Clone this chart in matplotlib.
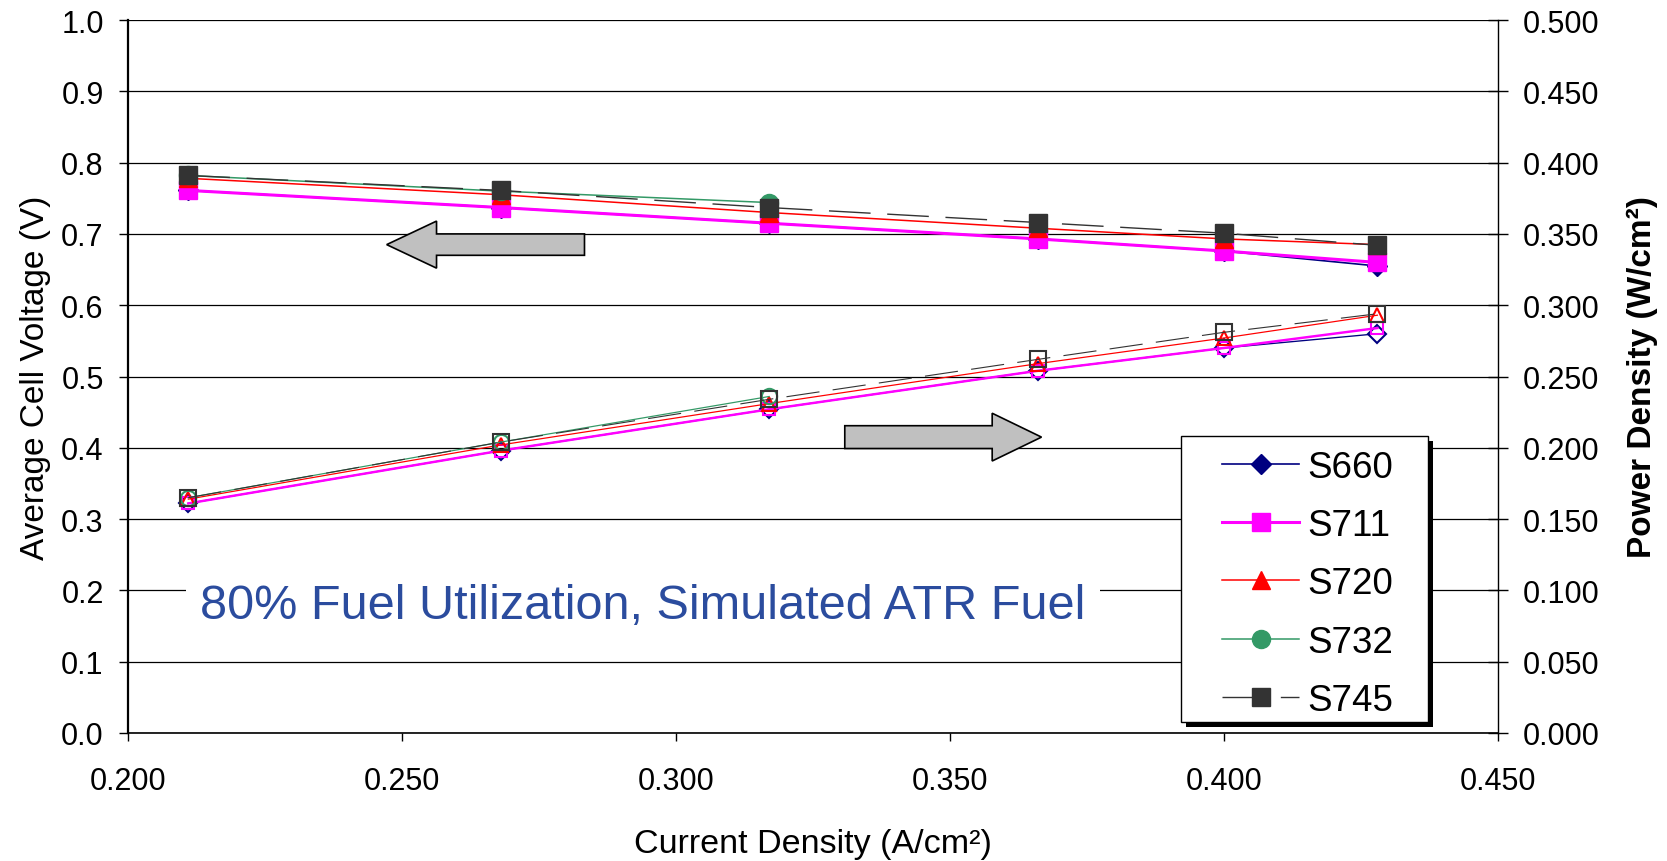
import matplotlib
matplotlib.use('Agg')
import matplotlib.pyplot as plt
import matplotlib.patches as mpatches
from matplotlib import font_manager
import numpy as np

plt.rcParams['font.family'] = ['Liberation Sans', 'DejaVu Sans']

# current density (A/cm2)
current = [0.211, 0.268, 0.317, 0.366, 0.400, 0.428]
current_s732 = [0.211, 0.268, 0.317]

# average cell voltage (V)
volt_s660 = [0.761, 0.737, 0.715, 0.693, 0.676, 0.655]
volt_s711 = [0.761, 0.737, 0.715, 0.693, 0.676, 0.660]
volt_s720 = [0.778, 0.755, 0.730, 0.708, 0.693, 0.685]
volt_s732 = [0.782, 0.760, 0.744]
volt_s745 = [0.782, 0.761, 0.737, 0.716, 0.701, 0.684]

# power density (W/cm2)
power_s660 = [0.161, 0.198, 0.227, 0.254, 0.270, 0.280]
power_s711 = [0.161, 0.198, 0.227, 0.254, 0.270, 0.284]
power_s720 = [0.164, 0.202, 0.231, 0.259, 0.277, 0.293]
power_s732 = [0.165, 0.204, 0.236]
power_s745 = [0.165, 0.204, 0.234, 0.262, 0.281, 0.294]

names = ['S660', 'S711', 'S720', 'S732', 'S745']
xs = [current, current, current, current_s732, current]
volts = [volt_s660, volt_s711, volt_s720, volt_s732, volt_s745]
powers = [power_s660, power_s711, power_s720, power_s732, power_s745]

colors = ['#000080', '#FF00FF', '#FF0000', '#339966', '#333333']
markers = ['D', 's', '^', 'o', 's']
msize = [10.5, 13, 13, 13, 13]
psize = [9.5, 9, 10, 11, 11.5]
lws = [1.2, 2.2, 1.1, 1.1, 1.0]

fig = plt.figure(figsize=(16.67, 8.62), dpi=100)
ax = fig.add_axes([0.0768, 0.1485, 0.8218, 0.8271])
ax2 = ax.twinx()

handles = []
for i in range(5):
    ls = (0, (30, 12)) if names[i] == 'S745' else '-'
    h, = ax.plot(xs[i], volts[i], color=colors[i], lw=lws[i], ls=ls,
                 marker=markers[i], ms=msize[i], mfc=colors[i], mec=colors[i],
                 label=names[i], zorder=4)
    handles.append(h)
    ax2.plot(xs[i], powers[i], color=colors[i], lw=lws[i] * 0.8, ls=ls,
             marker=markers[i], ms=psize[i], mfc='none', mec=colors[i],
             mew=1.5)

ax.set_xlim(0.2, 0.45)
ax.set_ylim(0, 1.0)
ax2.set_ylim(0, 0.5)
ax.set_xticks(np.arange(0.2, 0.451, 0.05))
ax.set_xticklabels(['%.3f' % v for v in np.arange(0.2, 0.451, 0.05)])
ax.set_yticks(np.arange(0, 1.01, 0.1))
ax.set_yticklabels(['%.1f' % v for v in np.arange(0, 1.01, 0.1)])
ax2.set_yticks(np.arange(0, 0.501, 0.05))
ax2.set_yticklabels(['%.3f' % v for v in np.arange(0, 0.501, 0.05)])

ax.yaxis.grid(True, color='black', lw=0.9)
ax.set_axisbelow(True)
for s in ['top', 'right']:
    ax.spines[s].set_visible(False)
for s in ['top', 'left', 'bottom']:
    ax2.spines[s].set_visible(False)
ax.spines['left'].set_linewidth(1.6)
ax.spines['bottom'].set_linewidth(1.2)
ax2.spines['right'].set_linewidth(1.0)

ax.tick_params(axis='y', direction='out', length=6.5, width=1, labelsize=22, pad=11)
ax.tick_params(axis='x', direction='out', length=5.8, width=1, labelsize=22, pad=18)
ax2.tick_params(axis='y', direction='inout', length=14, width=1, labelsize=22, pad=10.5)

ax.set_xlabel('Current Density (A/cm²)', fontsize=24.5)
ax.xaxis.set_label_coords(0.5, -0.133)
ax.set_ylabel('Average Cell Voltage (V)', fontsize=24)
ax.yaxis.set_label_coords(-0.056, 0.5)
ax2.set_ylabel('Power Density (W/cm²)', fontsize=24, fontweight='bold')
ax2.yaxis.set_label_coords(1.094, 0.5)

# block arrows pointing at the axis each group belongs to
ax.add_patch(mpatches.FancyArrow(0.2833, 0.685, -0.0361, 0, width=0.030,
                                 head_width=0.066, head_length=0.0091,
                                 length_includes_head=True, fc='#C0C0C0',
                                 ec='black', lw=1.2, zorder=3))
ax.add_patch(mpatches.FancyArrow(0.3308, 0.415, 0.0359, 0, width=0.032,
                                 head_width=0.067, head_length=0.009,
                                 length_includes_head=True, fc='#C0C0C0',
                                 ec='black', lw=1.2, zorder=3))

fonts = {f.name for f in font_manager.fontManager.ttflist}
if 'Liberation Sans Narrow' in fonts:
    note_font, note_size = 'Liberation Sans Narrow', 42
else:
    note_font, note_size = 'Liberation Sans', 35
ax.text(0.294, 0.179, '80% Fuel Utilization, Simulated ATR Fuel',
        fontsize=note_size, family=note_font, color='#2B4C9E',
        ha='center', va='center', zorder=3,
        bbox=dict(boxstyle='square,pad=0.3', fc='white', ec='none'))

# legend box with a hard black shadow, drawn by hand
ax2.add_patch(mpatches.Rectangle((0.7723, 0.0084), 0.1803, 0.4012,
                                 transform=ax2.transAxes, fc='black',
                                 ec='none', zorder=4.6))
ax2.add_patch(mpatches.Rectangle((0.7686, 0.0154), 0.1803, 0.4012,
                                 transform=ax2.transAxes, fc='white',
                                 ec='black', lw=1.0, zorder=4.7))
ax2.legend(handles, names, loc='upper left', bbox_to_anchor=(0.7985, 0.397),
           fontsize=26.5, frameon=False, handlelength=2.1, handletextpad=0.22,
           borderpad=0, labelspacing=0.63, borderaxespad=0)

fig.savefig('out.png', dpi=100)
